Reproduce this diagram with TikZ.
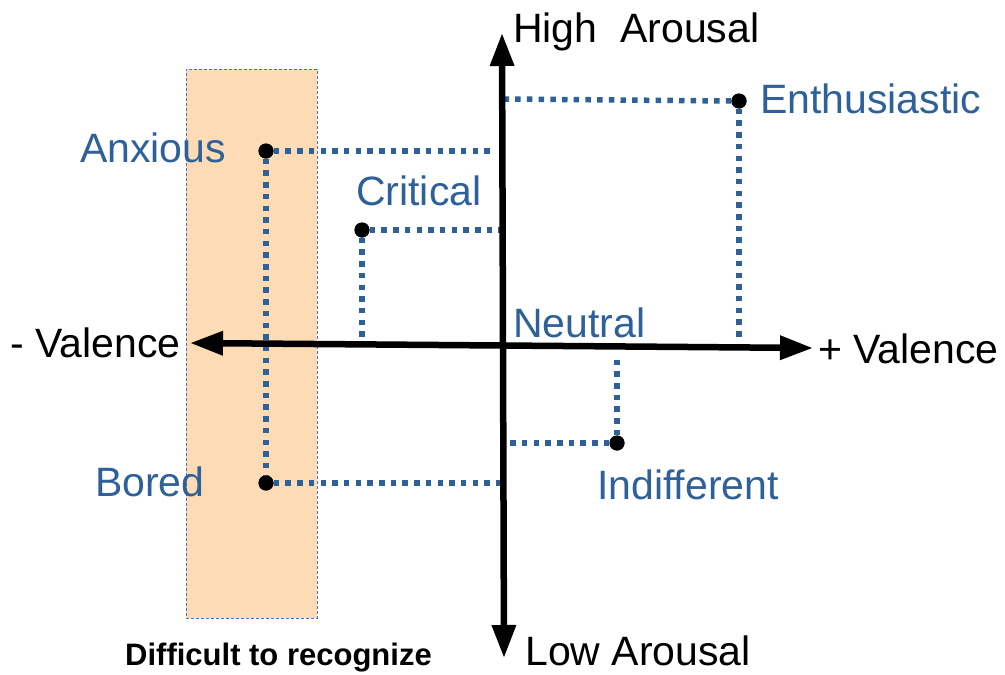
\documentclass[tikz,border=0pt]{standalone}
\usepackage{fontspec}
\setmainfont{Liberation Sans}
\usetikzlibrary{arrows.meta}
\definecolor{lblue}{RGB}{46,96,153}
\definecolor{peach}{RGB}{253,219,180}
\definecolor{rectedge}{RGB}{68,114,196}
\begin{document}
\begin{tikzpicture}[x=1pt,y=-1pt,
  lbl/.style={font=\fontsize{41}{49}\selectfont, text=lblue, inner sep=0pt, anchor=base west},
  axlbl/.style={font=\fontsize{41}{49}\selectfont, text=black, inner sep=0pt, anchor=base west},
  dotnode/.style={circle, fill=black, inner sep=0pt, minimum size=15pt},
  guide/.style={draw=lblue, line width=5.5pt, dash pattern=on 5.5pt off 6.2pt},
  axisline/.style={line width=6.5pt, {Triangle[length=33pt,width=23pt]}-{Triangle[length=33pt,width=23pt]}}]
\useasboundingbox (0,0) rectangle (1005,675);
% difficult zone
\node (zone) [draw=rectedge, fill=peach, dash pattern=on 3pt off 2pt, line width=1pt,
  minimum width=131pt, minimum height=549pt, inner sep=0pt] at (251.5,343.5) {};
% dots
\node (anx) [dotnode] at (266,151) {};
\node (bor) [dotnode] at (266,483) {};
\node (cri) [dotnode] at (362,230) {};
\node (ent) [dotnode] at (739,101) {};
\node (ind) [dotnode] at (617,443) {};
% guide ends
\coordinate (anxE) at (494,151);
\coordinate (borE) at (500,483);
\coordinate (criE) at (503,230);
\coordinate (criS) at (362,338);
\coordinate (entW) at (505,99);
\coordinate (entS) at (739,340);
\coordinate (indW) at (507,443);
\coordinate (indN) at (617,355);
\draw[guide] (anx.east) -- (anxE);
\draw[guide] (anx.south) -- (bor.north);
\draw[guide] (bor.east) -- (borE);
\draw[guide] (cri.east) -- (criE);
\draw[guide] (cri.south) -- (criS);
\draw[guide] (ent.west) -- (entW);
\draw[guide] (ent.south) -- (entS);
\draw[guide] (ind.west) -- (indW);
\draw[guide] (ind.north) -- (indN);
% axes
\coordinate (vtop) at (502,33);
\coordinate (vbot) at (504,658);
\coordinate (hleft) at (190,343);
\coordinate (hright) at (813,348);
\draw[axisline] (vbot) -- (vtop);
\draw[axisline] (hleft) -- (hright);
% redraw dots on top
\fill (anx) circle (7.5pt);
\fill (bor) circle (7.5pt);
\fill (cri) circle (7.5pt);
\fill (ent) circle (7.5pt);
\fill (ind) circle (7.5pt);
% labels
\node (tanx) [lbl] at (80,162) {Anxious};
\node (tcri) [lbl] at (356,205) {Critical};
\node (tent) [lbl] at (760,113) {Enthusiastic};
\node (tneu) [lbl] at (513,337) {Neutral};
\node (tbor) [lbl] at (95,496) {Bored};
\node (tind) [lbl] at (597,499) {Indifferent};
\node (thigh) [axlbl] at (513,42) {High\ \ Arousal};
\node (tlow) [axlbl] at (525,665) {Low Arousal};
\node (tneg) [axlbl] at (10,357) {- Valence};
\node (tpos) [axlbl] at (818,363) {+ Valence};
\node (tdiff) [font=\bfseries\fontsize{31}{37}\selectfont, inner sep=0pt, anchor=base west] at (125,665) {Difficult to recognize};
\end{tikzpicture}
\end{document}
